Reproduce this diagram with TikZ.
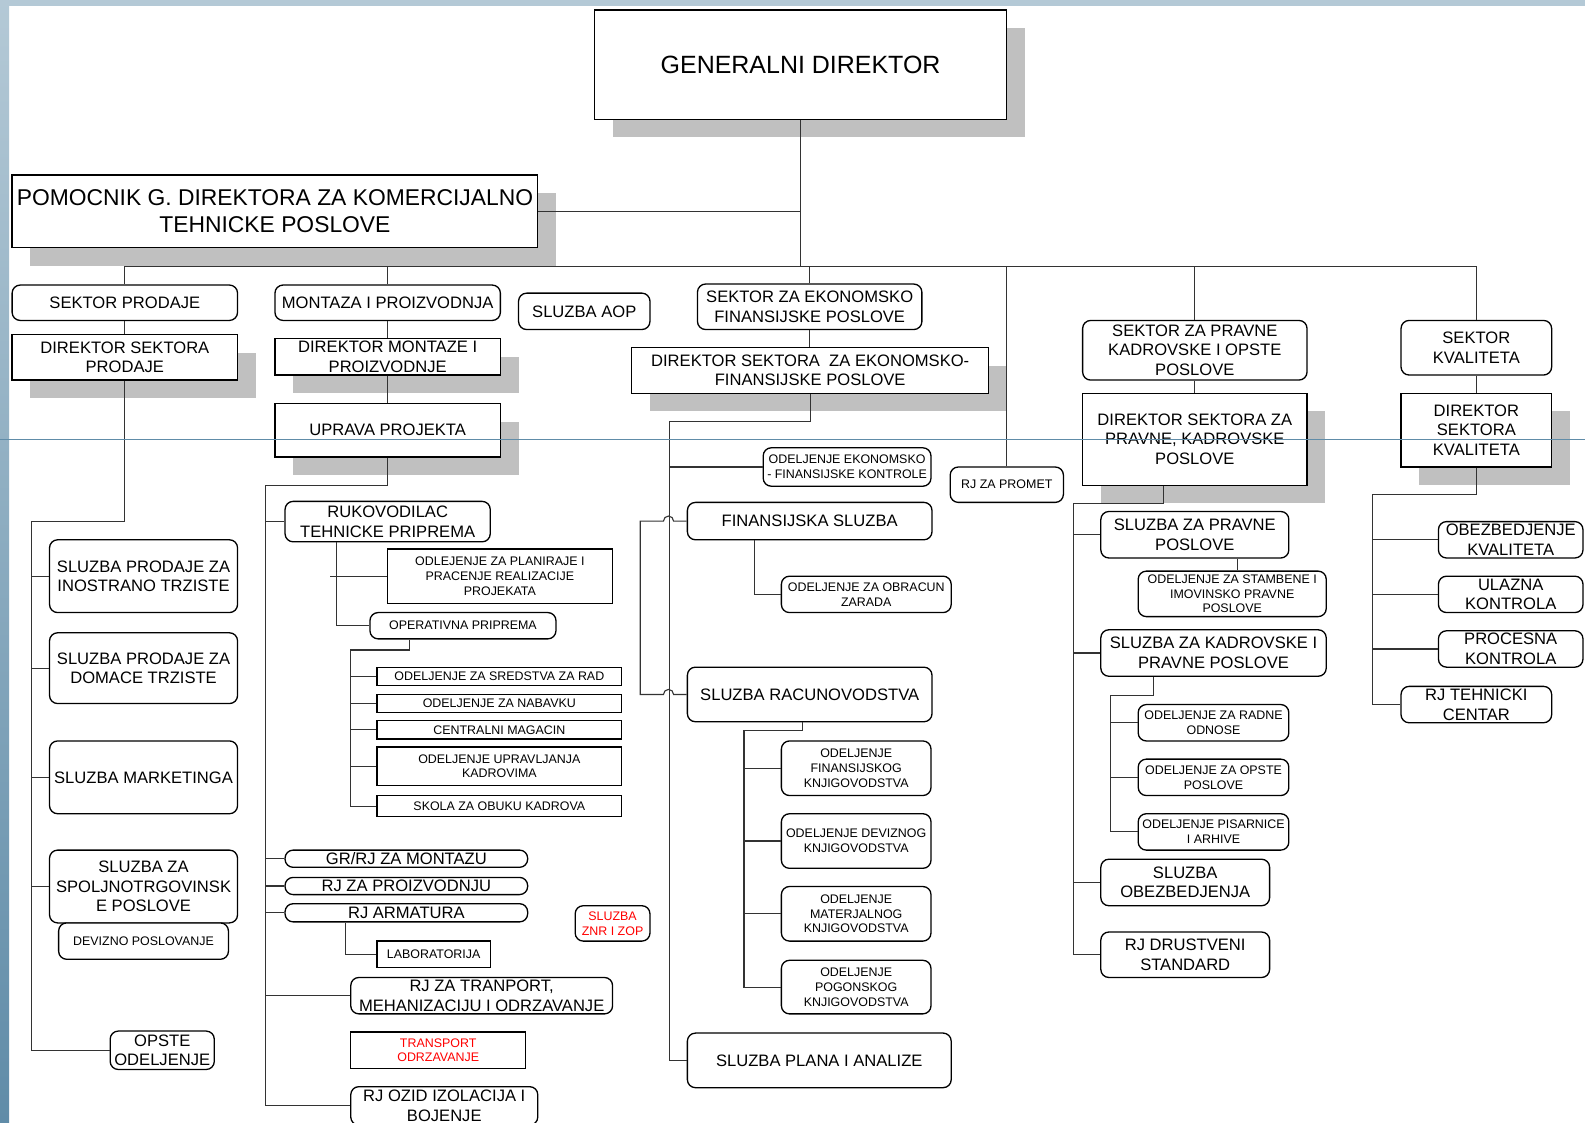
\documentclass[tikz,border=0pt]{standalone}
\usepackage{fontspec}
\setmainfont{Liberation Sans}
\usetikzlibrary{shadows}

\definecolor{shadgray}{RGB}{192,192,192}
\definecolor{slideblue}{RGB}{96,140,168}
\definecolor{slidelight}{RGB}{180,201,214}
\newcommand{\fgd}{\fontsize{24.7}{29}\selectfont}
\newcommand{\fpom}{\fontsize{22.6}{27}\selectfont}
\newcommand{\fmed}{\fontsize{16.4}{19.3}\selectfont}
\newcommand{\fsml}{\fontsize{12.3}{14.6}\selectfont}

\begin{document}
\begin{tikzpicture}[x=1pt,y=-1pt,
    box/.style={draw, line width=1.3pt, fill=white, align=center, inner sep=1pt, font=\fmed},
    rbox/.style={box, rounded corners=8pt},
    small/.style={font=\fsml},
    shad/.style={general shadow={fill=shadgray, shadow xshift=18pt, shadow yshift=-18pt}},
    sz/.style 2 args={minimum width=#1pt, minimum height=#2pt},
    link/.style={line width=1.1pt, draw=black!80}]

\useasboundingbox (0,0) rectangle (1568,1110);

% ============================================
% SLIDE BACKGROUND
% ============================================
        \fill[white] (0,0) rectangle (1568,1110);
        \shade[top color=slidelight, bottom color=slideblue] (0,0) rectangle (9,1110);
        \fill[slidelight] (0,0) rectangle (1568,6);

% ============================================
% TOP – GENERALNI DIREKTOR AND POMOCNIK
% ============================================
        \node[box, shad, font=\fgd, sz={408}{108}] (gd) at (792,64) {GENERALNI DIREKTOR};
        \node[box, shad, font=\fpom, sz={520}{72}] (pomoc) at (272,209)
             {POMOCNIK G. DIREKTORA ZA KOMERCIJALNO\\TEHNICKE POSLOVE};
        \coordinate (bus) at (792,264); % main horizontal line

% ============================================
% SEKTOR PRODAJE
% ============================================
        \node[rbox, sz={223}{35}] (sekprod) at (123.5,299.5) {SEKTOR PRODAJE};
        \node[box, shad, sz={223}{45}] (dirprod) at (123.5,353.5) {DIREKTOR SEKTORA\\PRODAJE};
        \node[rbox, sz={186}{72}] (inos) at (142,570) {SLUZBA PRODAJE ZA\\INOSTRANO TRZISTE};
        \node[rbox, sz={186}{70}] (domace) at (142,661) {SLUZBA PRODAJE ZA\\DOMACE TRZISTE};
        \node[rbox, sz={186}{72}] (mark) at (142,769) {SLUZBA MARKETINGA};
        \node[rbox, sz={186}{72}] (spoljno) at (142,877) {SLUZBA ZA\\SPOLJNOTRGOVINSK\\E POSLOVE};
        \node[rbox, small, sz={168}{36}] (devizno) at (142,931) {DEVIZNO POSLOVANJE};
        \node[rbox, sz={103}{38}] (opste) at (160.5,1039) {OPSTE\\ODELJENJE};

% ============================================
% MONTAZA I PROIZVODNJA
% ============================================
        \node[rbox, sz={223}{35}] (montaza) at (383.5,299.5) {MONTAZA I PROIZVODNJA};
        \node[box, shad, sz={223}{36}] (dirmont) at (383.5,353) {DIREKTOR MONTAZE I\\PROIZVODNJE};
        \node[box, shad, sz={223}{53}] (uprava) at (383.5,425.5) {UPRAVA PROJEKTA};
        \node[rbox, sz={203}{40}] (rukov) at (383.5,516) {RUKOVODILAC\\TEHNICKE PRIPREMA};
        \node[box, small, sz={223}{54}] (planir) at (494.5,570)
             {ODLEJENJE ZA PLANIRAJE I\\PRACENJE REALIZACIJE\\PROJEKATA};
        \node[rbox, small, sz={184}{26}] (operat) at (458,619) {OPERATIVNA PRIPREMA};
        \node[box, small, sz={242}{18}] (sredstva) at (494,669) {ODELJENJE ZA SREDSTVA ZA RAD};
        \node[box, small, sz={242}{18}] (nabavku) at (494,696) {ODELJENJE ZA NABAVKU};
        \node[box, small, sz={242}{18}] (magacin) at (494,722) {CENTRALNI MAGACIN};
        \node[box, small, sz={242}{38}] (upravlj) at (494,758) {ODELJENJE UPRAVLJANJA\\KADROVIMA};
        \node[box, small, sz={242}{21}] (skola) at (494,797.5) {SKOLA ZA OBUKU KADROVA};
        \node[rbox, sz={240}{17}] (grmont) at (402,849.5) {GR/RJ ZA MONTAZU};
        \node[rbox, sz={240}{17}] (rjproiz) at (402,876.5) {RJ ZA PROIZVODNJU};
        \node[rbox, sz={240}{18}] (armat) at (402,903) {RJ ARMATURA};
        \node[box, small, sz={112}{26}] (laborat) at (429,944) {LABORATORIJA};
        \node[rbox, sz={259}{36}] (tranport) at (476.5,985) {RJ ZA TRANPORT,\\MEHANIZACIJU I ODRZAVANJE};
        \node[box, small, text=red, sz={173}{36}] (transodr) at (433.5,1039) {TRANSPORT\\ODRZAVANJE};
        \node[rbox, sz={185}{38}] (ozid) at (439.5,1094) {RJ OZID IZOLACIJA I\\BOJENJE};
        \node[rbox, small, text=red, sz={74}{35}] (znr) at (606,913.5) {SLUZBA\\ZNR I ZOP};
        \node[rbox, sz={130}{36}] (aop) at (578,308) {SLUZBA AOP};

% ============================================
% SEKTOR ZA EKONOMSKO FINANSIJSKE POSLOVE
% ============================================
        \node[rbox, sz={222}{45}] (sekeko) at (801,303.5) {SEKTOR ZA EKONOMSKO\\FINANSIJSKE POSLOVE};
        \node[box, shad, sz={353}{45}] (direko) at (801.5,366.5)
             {DIREKTOR SEKTORA~ ZA EKONOMSKO-\\FINANSIJSKE POSLOVE};
        \node[rbox, small, sz={166}{38}] (ekokon) at (838,462) {ODELJENJE EKONOMSKO\\- FINANSIJSKE KONTROLE};
        \node[rbox, sz={242}{37}] (finsl) at (801,515.5) {FINANSIJSKA SLUZBA};
        \node[rbox, small, sz={168}{36}] (obracun) at (857,588) {ODELJENJE ZA OBRACUN\\ZARADA};
        \node[rbox, sz={242}{54}] (racun) at (801,687) {SLUZBA RACUNOVODSTVA};
        \node[rbox, small, sz={148}{54}] (finkn) at (847,760) {ODELJENJE\\FINANSIJSKOG\\KNJIGOVODSTVA};
        \node[rbox, small, sz={148}{54}] (devkn) at (847,832) {ODELJENJE DEVIZNOG\\KNJIGOVODSTVA};
        \node[rbox, small, sz={148}{54}] (matkn) at (847,904) {ODELJENJE\\MATERJALNOG\\KNJIGOVODSTVA};
        \node[rbox, small, sz={148}{53}] (pogkn) at (847,976.5) {ODELJENJE\\POGONSKOG\\KNJIGOVODSTVA};
        \node[rbox, sz={261}{54}] (plana) at (810.5,1049) {SLUZBA PLANA I ANALIZE};
        \node[rbox, small, sz={112}{35}] (promet) at (996,479.5) {RJ ZA PROMET};

% ============================================
% SEKTOR ZA PRAVNE KADROVSKE I OPSTE POSLOVE
% ============================================
        \node[rbox, sz={222}{59}] (sekpr) at (1182,346.5) {SEKTOR ZA PRAVNE\\KADROVSKE I OPSTE\\POSLOVE};
        \node[box, shad, sz={222}{91}] (dirpr) at (1182,434.5)
             {DIREKTOR SEKTORA ZA\\PRAVNE, KADROVSKE\\POSLOVE};
        \node[rbox, sz={186}{46}] (slpr) at (1182,529) {SLUZBA ZA PRAVNE\\POSLOVE};
        \node[rbox, small, sz={186}{45}] (stamb) at (1219,587.5)
             {ODELJENJE ZA STAMBENE I\\IMOVINSKO PRAVNE\\POSLOVE};
        \node[rbox, sz={223}{46}] (slkad) at (1200.5,646) {SLUZBA ZA KADROVSKE I\\PRAVNE POSLOVE};
        \node[rbox, small, sz={149}{36}] (radne) at (1200.5,715) {ODELJENJE ZA RADNE\\ODNOSE};
        \node[rbox, small, sz={149}{36}] (opspos) at (1200.5,769) {ODELJENJE ZA OPSTE\\POSLOVE};
        \node[rbox, small, sz={149}{36}] (pisar) at (1200.5,823) {ODELJENJE PISARNICE\\I ARHIVE};
        \node[rbox, sz={167}{46}] (obezb) at (1172.5,873) {SLUZBA\\OBEZBEDJENJA};
        \node[rbox, sz={167}{45}] (drustv) at (1172.5,944.5) {RJ DRUSTVENI\\STANDARD};

% ============================================
% SEKTOR KVALITETA
% ============================================
        \node[rbox, sz={149}{54}] (sekkv) at (1460.5,344) {SEKTOR\\KVALITETA};
        \node[box, shad, sz={149}{73}] (dirkv) at (1460.5,425.5) {DIREKTOR\\SEKTORA\\KVALITETA};
        \node[rbox, sz={143}{36}] (obkv) at (1494.5,534) {OBEZBEDJENJE\\KVALITETA};
        \node[rbox, sz={143}{36}] (ulaz) at (1494.5,588) {ULAZNA\\KONTROLA};
        \node[rbox, sz={143}{36}] (proc) at (1494.5,642) {PROCESNA\\KONTROLA};
        \node[rbox, sz={149}{36}] (tehcen) at (1460.5,697) {RJ TEHNICKI\\CENTAR};

% ============================================
% CONNECTORS
% ============================================
        % top level
        \draw[link] (gd.south) -- (bus);
        \draw[link] (pomoc.east) -- (pomoc.east -| gd.south);
        \draw[link] (sekprod.north) |- (bus) -| (sekkv.north);
        \foreach \n in {montaza,sekeko,promet,sekpr}
            \draw[link] (\n.north) -- (\n.north |- bus);
        \foreach \a/\b in {sekprod/dirprod,montaza/dirmont,dirmont/uprava,sekeko/direko,sekpr/dirpr,sekkv/dirkv}
            \draw[link] (\a.south) -- (\a.south |- \b.north);
        % prodaja
        \coordinate (prodL) at (31,516);
        \draw[link] (dirprod.south) |- (prodL) |- (opste.west);
        \foreach \n in {inos,domace,mark,spoljno}
            \draw[link] (prodL |- \n.west) -- (\n.west);
        % montaza
        \coordinate (montL) at (263,480);
        \draw[link] (uprava.south) |- (montL) |- (ozid.west);
        \foreach \n in {rukov,grmont,rjproiz,armat,tranport}
            \draw[link] (montL |- \n.west) -- (\n.west);
        \draw[link] ([xshift=-51pt]rukov.south) |- (operat.west);
        \draw[link] ([xshift=-57pt]rukov.south |- planir.west) -- (planir.west);
        \coordinate (operL) at (347,643);
        \draw[link] ([xshift=-53pt]operat.south) |- (operL) |- (skola.west);
        \foreach \n in {sredstva,nabavku,magacin,upravlj}
            \draw[link] (operL |- \n.west) -- (\n.west);
        \draw[link] ([xshift=-60pt]armat.south) |- (laborat.west);
        % ekonomsko finansijske
        \coordinate (ekoL) at (662,417);
        \draw[link] (direko.south) |- (ekoL) |- (plana.west);
        \draw[link] (ekoL |- ekokon.west) -- (ekokon.west);
        \draw[link] (finsl.west) -- ++(-13,0) arc[start angle=0,end angle=-180,radius=5]
                    -- ++(-23,0) |- ([xshift=-23pt]racun.west)
                    arc[start angle=180,end angle=360,radius=5] -- (racun.west);
        \draw[link] ([xshift=-55pt]finsl.south) |- (obracun.west);
        \coordinate (racL) at (736,723);
        \draw[link] ([xshift=-7pt]racun.south) |- (racL) |- (pogkn.west);
        \foreach \n in {finkn,devkn,matkn}
            \draw[link] (racL |- \n.west) -- (\n.west);
        % pravne kadrovske
        \coordinate (prL) at (1062,498);
        \draw[link] ([xshift=-31pt]dirpr.south) |- (prL) |- (drustv.west);
        \foreach \n in {slpr,slkad,obezb}
            \draw[link] (prL |- \n.west) -- (\n.west);
        \draw[link] ([xshift=5pt]stamb.north) -- ([xshift=5pt]stamb.north |- slpr.south);
        \coordinate (kadL) at (1099,688);
        \draw[link] ([xshift=-59pt]slkad.south) |- (kadL) |- (pisar.west);
        \foreach \n in {radne,opspos}
            \draw[link] (kadL |- \n.west) -- (\n.west);
        % kvalitet
        \coordinate (kvL) at (1358,489);
        \draw[link] (dirkv.south) |- (kvL) |- (tehcen.west);
        \foreach \n in {obkv,ulaz,proc}
            \draw[link] (kvL |- \n.west) -- (\n.west);

        % thin line of the slide
        \draw[slideblue, line width=0.8pt] (0,435) -- (1568,435);
\end{tikzpicture}
\end{document}
